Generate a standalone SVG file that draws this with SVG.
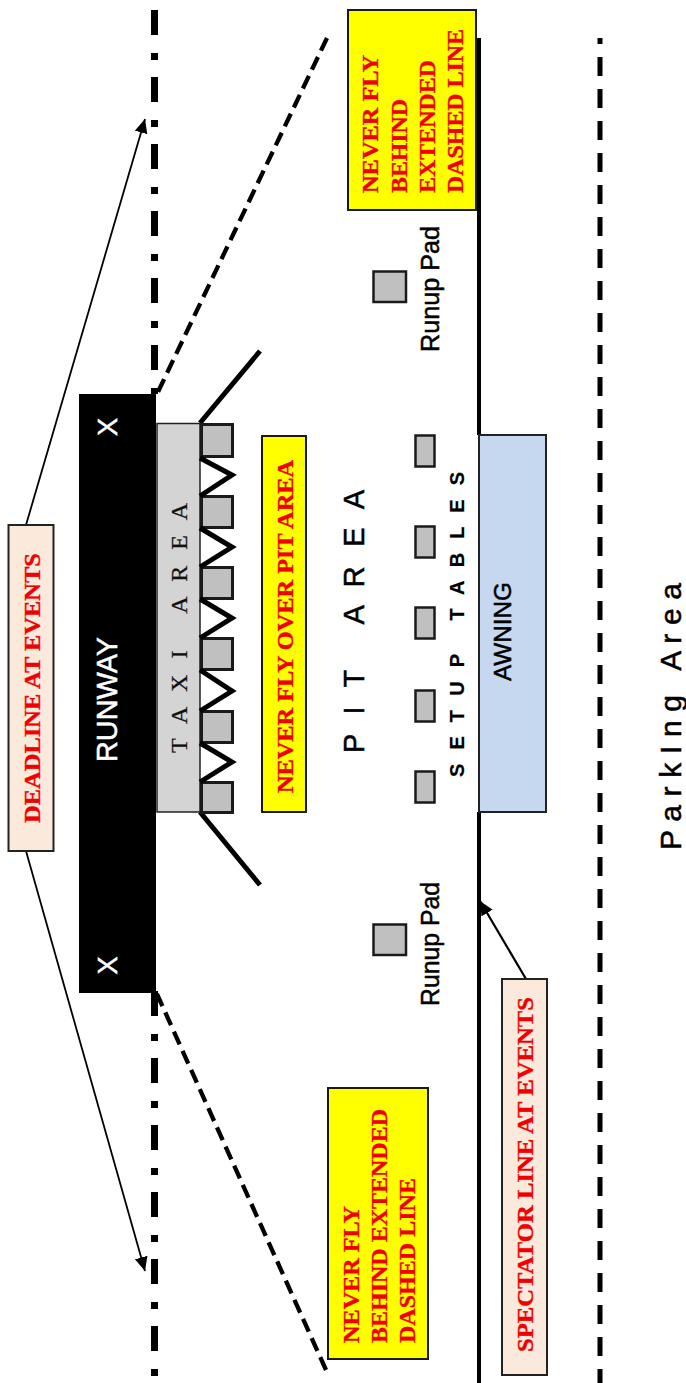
<svg xmlns="http://www.w3.org/2000/svg" width="686" height="1383" viewBox="0 0 686 1383">
<style>
.warn{font-family:"Liberation Serif","Times New Roman",serif;font-weight:bold;font-size:24px;fill:#f00000;stroke:#f00000;stroke-width:.35}
.sans{font-family:"Liberation Sans",Arial,sans-serif;fill:#000;stroke:#000;stroke-width:.5}
.white{fill:#fff;stroke:#fff;stroke-width:.5}
.pad{fill:#c0c0c0;stroke:#1a1a1a;stroke-width:2.5}
.stall{fill:#c0c0c0;stroke:#1a1a1a;stroke-width:3}
.thick{stroke:#000;stroke-width:5;fill:none}
.note{fill:#ffff00;stroke:#1a1a1a;stroke-width:2}
.peach{fill:#fbe9dc;stroke:#222;stroke-width:2}
.dl{stroke:#000;stroke-width:7;stroke-dasharray:25 18 7 17;fill:none}
.ext{stroke:#000;stroke-width:4.3;stroke-dasharray:14 7;fill:none}
.arrow{stroke:#000;stroke-width:1.8;fill:none;marker-end:url(#head)}
</style>
<defs>
<marker id="head" markerUnits="userSpaceOnUse" markerWidth="15" markerHeight="14" refX="14" refY="7" orient="auto">
<path d="M0,0.5 L14,7 L0,13.5 Z" fill="#000"/>
</marker>
</defs>
<rect width="686" height="1383" fill="#fff"/>
<g id="connectors">
<path class="dl" d="M154.500,10 V394"/>
<path class="dl" d="M154.500,991 V1383"/>
<path class="ext" d="M327,38 L157,394"/>
<path class="ext" d="M326,1370 L157,994"/>
<path class="arrow" d="M26,525 L145,119"/>
<path class="arrow" d="M26,851 L145,1271"/>
<path d="M479,38 V435 M479,812 V1383" stroke="#000" stroke-width="4" fill="none"/>
<path d="M526,979 L480,901" stroke="#000" stroke-width="2.2" fill="none" marker-end="url(#head)"/>
<path d="M600,38 V1383" stroke="#000" stroke-width="5" fill="none" stroke-dasharray="19 13" stroke-dashoffset="13"/>
<path d="M200,423 L260,351 M200,812 L260,885" class="thick"/>
</g>
<g id="runway">
<rect x="79" y="394" width="77" height="599" fill="#000"/>
<text class="sans white" font-size="29" style="fill:#fff;stroke:#fff" textLength="125" lengthAdjust="spacingAndGlyphs" transform="translate(117,762) rotate(-90)">RUNWAY</text>
<text class="sans white" font-size="27" style="fill:#fff;stroke:#fff" text-anchor="middle" transform="translate(117,427) rotate(-90)">X</text>
<text class="sans white" font-size="27" style="fill:#fff;stroke:#fff" text-anchor="middle" transform="translate(117,965.500) rotate(-90)">X</text>
</g>
<g id="taxi-area">
<rect x="157" y="423.500" width="43" height="388.500" fill="#d4d4d4" stroke="#222" stroke-width="1.500"/>
<text xml:space="preserve" font-family="Liberation Serif,serif" font-size="24" fill="#111" stroke="#111" stroke-width=".25" textLength="250" lengthAdjust="spacing" transform="translate(187,753) rotate(-90)">T A X I   A R E A</text>
</g>
<g id="pit-stalls">
<rect class="stall" x="201.500" y="424.500" width="31" height="32"/>
<rect class="stall" x="201.500" y="496.500" width="31" height="31"/>
<rect class="stall" x="201.500" y="567.500" width="31" height="31"/>
<rect class="stall" x="201.500" y="638.500" width="31" height="31"/>
<rect class="stall" x="201.500" y="711.500" width="31" height="31"/>
<rect class="stall" x="201.500" y="782.500" width="31" height="30"/>
<path class="thick" d="M200,458 L232,475 L200,496 M200,528 L232,547 L200,567 M200,599 L232,618 L200,638 M200,670 L232,691 L200,711 M200,743 L232,762 L200,782"/>
</g>
<g id="never-fly-pit">
<rect class="note" x="262" y="436" width="44" height="376"/>
<text class="warn" textLength="333" lengthAdjust="spacingAndGlyphs" transform="translate(293,793) rotate(-90)">NEVER FLY OVER PIT AREA</text>
</g>
<g id="pit-area">
<text xml:space="preserve" class="sans" font-size="29" textLength="263" lengthAdjust="spacing" transform="translate(364,753) rotate(-90)">P I T   A R E A</text>
</g>
<g id="setup-tables">
<rect class="pad" x="415.500" y="435.500" width="19" height="31"/>
<rect class="pad" x="415.500" y="526.500" width="19" height="31"/>
<rect class="pad" x="415.500" y="607.500" width="19" height="31"/>
<rect class="pad" x="415.500" y="690.500" width="19" height="31"/>
<rect class="pad" x="415.500" y="771.500" width="19" height="31"/>
<text xml:space="preserve" class="sans" font-size="20" font-weight="bold" style="stroke-width:.2" textLength="305" lengthAdjust="spacing" transform="translate(464,777) rotate(-90)">S E T U P   T A B L E S</text>
</g>
<g id="awning">
<rect x="479" y="435" width="67" height="377" fill="#c5d8f0" stroke="#222" stroke-width="2"/>
<text class="sans" font-size="24" textLength="99" lengthAdjust="spacingAndGlyphs" transform="translate(510.500,681) rotate(-90)">AWNING</text>
</g>
<g id="runup-top">
<rect class="pad" x="373.500" y="271.500" width="32.500" height="30.500"/>
<text class="sans" font-size="25" textLength="126" lengthAdjust="spacingAndGlyphs" transform="translate(439,352) rotate(-90)">Runup Pad</text>
</g>
<g id="runup-bottom">
<rect class="pad" x="373.500" y="924.500" width="32.500" height="30.500"/>
<text class="sans" font-size="25" textLength="124" lengthAdjust="spacingAndGlyphs" transform="translate(439,1006) rotate(-90)">Runup Pad</text>
</g>
<g id="never-fly-top">
<rect class="note" x="348" y="10" width="128" height="200"/>
<text class="warn" textLength="138" lengthAdjust="spacingAndGlyphs" transform="translate(378,193) rotate(-90)">NEVER FLY</text>
<text class="warn" textLength="94" lengthAdjust="spacingAndGlyphs" transform="translate(407,193) rotate(-90)">BEHIND</text>
<text class="warn" textLength="133" lengthAdjust="spacingAndGlyphs" transform="translate(435,193) rotate(-90)">EXTENDED</text>
<text class="warn" textLength="164" lengthAdjust="spacingAndGlyphs" transform="translate(463,193) rotate(-90)">DASHED LINE</text>
</g>
<g id="never-fly-bottom">
<rect class="note" x="328" y="1088" width="100" height="271"/>
<text class="warn" textLength="137" lengthAdjust="spacingAndGlyphs" transform="translate(359,1343) rotate(-90)">NEVER FLY</text>
<text class="warn" textLength="234" lengthAdjust="spacingAndGlyphs" transform="translate(387,1343) rotate(-90)">BEHIND EXTENDED</text>
<text class="warn" textLength="165" lengthAdjust="spacingAndGlyphs" transform="translate(415,1343) rotate(-90)">DASHED LINE</text>
</g>
<g id="deadline">
<rect class="peach" x="8.500" y="525" width="45" height="326"/>
<text class="warn" textLength="270" lengthAdjust="spacingAndGlyphs" transform="translate(40,823) rotate(-90)">DEADLINE AT EVENTS</text>
</g>
<g id="spectator">
<rect class="peach" x="502" y="979" width="45" height="396"/>
<text class="warn" textLength="355" lengthAdjust="spacingAndGlyphs" transform="translate(533,1352) rotate(-90)">SPECTATOR LINE AT EVENTS</text>
</g>
<g id="parking">
<text xml:space="preserve" class="sans" font-size="30" textLength="267" lengthAdjust="spacing" transform="translate(681,850) rotate(-90)">P a r k I n g   A r e a</text>
</g>
</svg>
